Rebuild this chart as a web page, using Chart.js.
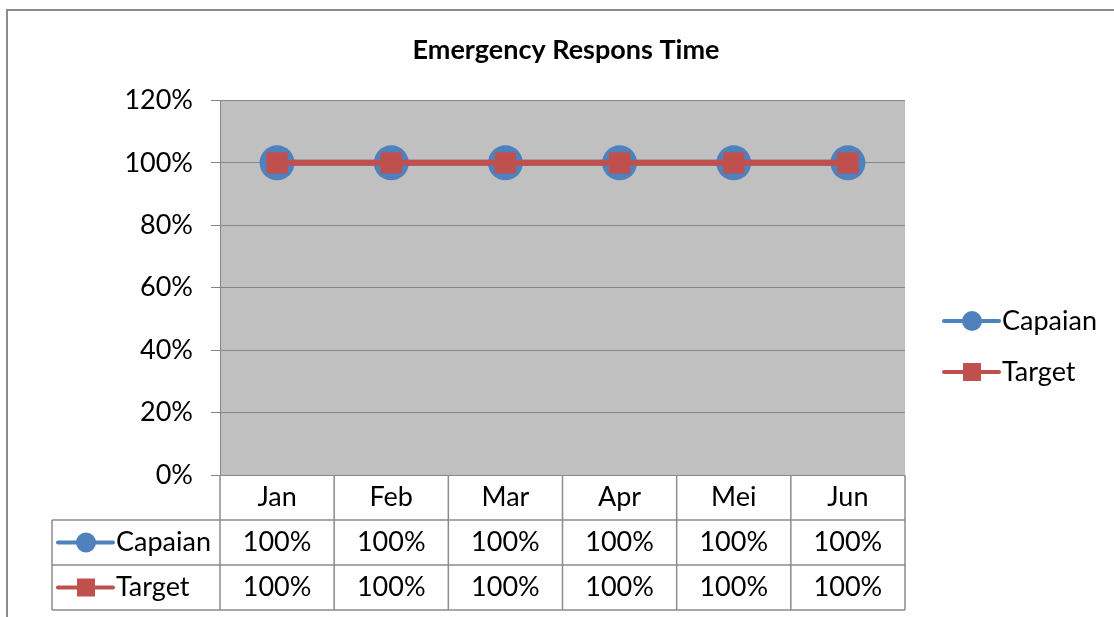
<!DOCTYPE html>
<html>
<head>
<meta charset="utf-8">
<script src="https://cdn.jsdelivr.net/npm/chart.js@4/dist/chart.umd.min.js"></script>
<style>
  html, body { margin: 0; padding: 0; background: #fff; overflow: hidden; }
  #wrap { position: relative; width: 1114px; height: 617px; }
</style>
</head>
<body>
<div id="wrap"><canvas id="chart" width="1114" height="617"></canvas></div>
<script>
const months = ['Jan', 'Feb', 'Mar', 'Apr', 'Mei', 'Jun'];
const capaian = [1, 1, 1, 1, 1, 1];
const target = [1, 1, 1, 1, 1, 1];
const yMin = 0, yMax = 1.2, yStep = 0.2;

const FONT = 'Lato, Carlito, "Open Sans", sans-serif';
const BLUE = '#4F81BD';
const RED = '#C0504D';
const LINE_GRAY = '#8c8c8c';

function pct(v) {
    return Math.round(v * 100) + '%';
}

// legend key: short line with the marker in the middle
function drawKey(ctx, x, y, ds) {
    ctx.save();
    ctx.strokeStyle = ds.borderColor;
    ctx.lineWidth = 4;
    ctx.lineCap = 'round';
    ctx.beginPath();
    ctx.moveTo(x, y);
    ctx.lineTo(x + 55, y);
    ctx.stroke();
    ctx.fillStyle = ds.borderColor;
    const cx = x + 28;
    if (ds.pointStyle === 'rect') {
        ctx.fillRect(cx - 9, y - 9, 18, 18);
    } else {
        ctx.beginPath();
        ctx.arc(cx, y, 10, 0, Math.PI * 2);
        ctx.fill();
    }
    ctx.restore();
}

const excelLook = {
    id: 'excelLook',
    beforeDraw(chart) {
        const { ctx, chartArea } = chart;
        ctx.save();
        // outer chart frame
        ctx.strokeStyle = LINE_GRAY;
        ctx.lineWidth = 2;
        ctx.strokeRect(7, 10, 1300, 800);
        // plot area background
        ctx.fillStyle = '#C0C0C0';
        ctx.fillRect(chartArea.left, chartArea.top, chartArea.right - chartArea.left, chartArea.bottom - chartArea.top);
        ctx.restore();
    },
    afterDraw(chart) {
        const { ctx, chartArea } = chart;
        const x = chart.scales.x;
        const sets = chart.data.datasets;
        const half = (x.getPixelForValue(1) - x.getPixelForValue(0)) / 2;
        const top = chartArea.bottom;
        const rowH = 45;
        const keyLeft = 52;
        const right = chartArea.right;
        const bottom = top + (sets.length + 1) * rowH;

        ctx.save();
        ctx.strokeStyle = LINE_GRAY;
        ctx.lineWidth = 1.5;
        ctx.beginPath();
        // horizontal rules (key column starts below the month row)
        for (let r = 1; r <= sets.length + 1; r++) {
            const yy = top + r * rowH;
            ctx.moveTo(keyLeft, yy);
            ctx.lineTo(right, yy);
        }
        // vertical rules
        months.forEach((m, i) => {
            const px = x.getPixelForValue(i) - half;
            ctx.moveTo(px, top);
            ctx.lineTo(px, bottom);
        });
        ctx.moveTo(right, top);
        ctx.lineTo(right, bottom);
        ctx.moveTo(keyLeft, top + rowH);
        ctx.lineTo(keyLeft, bottom);
        ctx.stroke();

        ctx.fillStyle = '#000';
        ctx.font = '27px ' + FONT;
        ctx.textAlign = 'center';
        ctx.textBaseline = 'middle';
        months.forEach((m, i) => {
            ctx.fillText(m, x.getPixelForValue(i), top + rowH / 2);
        });
        sets.forEach((ds, r) => {
            const yy = top + (r + 1.5) * rowH;
            ds.data.forEach((v, i) => {
                ctx.fillText(pct(v), x.getPixelForValue(i), yy);
            });
        });
        ctx.textAlign = 'left';
        sets.forEach((ds, r) => {
            const yy = top + (r + 1.5) * rowH;
            drawKey(ctx, 58, yy, ds);
            ctx.fillStyle = '#000';
            ctx.fillText(ds.label, 116, yy);
        });

        // legend on the right
        sets.forEach((ds, r) => {
            const yy = 321 + r * 51;
            drawKey(ctx, 944, yy, ds);
            ctx.fillStyle = '#000';
            ctx.fillText(ds.label, 1002, yy);
        });
        ctx.restore();
    }
};

const ctx = document.getElementById('chart').getContext('2d');
new Chart(ctx, {
    type: 'line',
    data: {
        labels: months,
        datasets: [{
            label: 'Capaian',
            data: capaian,
            borderColor: BLUE,
            backgroundColor: BLUE,
            borderWidth: 6,
            pointStyle: 'circle',
            pointRadius: 17.5,
            pointBorderWidth: 0,
            order: 2
        }, {
            label: 'Target',
            data: target,
            borderColor: RED,
            backgroundColor: RED,
            borderWidth: 6,
            pointStyle: 'rect',
            pointRadius: 15,
            pointBorderWidth: 0,
            order: 1
        }]
    },
    options: {
        responsive: false,
        animation: false,
        layout: { padding: { left: 18, top: 0, right: 0, bottom: 0 } },
        plugins: {
            legend: { display: false },
            tooltip: { enabled: false },
            title: {
                display: true,
                text: 'Emergency Respons Time',
                color: '#000',
                font: { family: FONT, size: 27, weight: 'bold' },
                padding: { top: 34, bottom: 34 }
            }
        },
        scales: {
            x: {
                offset: true,
                grid: { display: false },
                border: { display: false },
                ticks: { display: false },
                afterFit(scale) { scale.height = 142; }
            },
            y: {
                min: yMin,
                max: yMax,
                ticks: {
                    stepSize: yStep,
                    color: '#000',
                    font: { family: FONT, size: 27 },
                    padding: 18,
                    callback: v => pct(v)
                },
                grid: { color: '#868686', lineWidth: 1, tickLength: 9 },
                border: { color: '#868686', width: 1 },
                afterFit(scale) { scale.width = 202; }
            },
            // empty axis that keeps room for the legend on the right
            legendSpace: {
                type: 'linear',
                position: 'right',
                display: true,
                ticks: { display: false },
                grid: { display: false },
                border: { display: false },
                afterFit(scale) { scale.width = 209; }
            }
        }
    },
    plugins: [excelLook]
});
</script>
</body>
</html>
